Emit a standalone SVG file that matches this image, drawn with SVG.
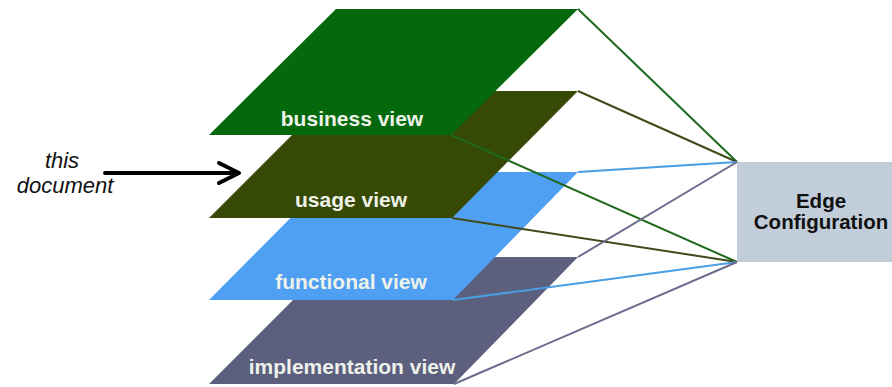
<svg xmlns="http://www.w3.org/2000/svg" width="892" height="387" viewBox="0 0 892 387">
<style>
.view{font-family:"Liberation Sans",Arial,sans-serif;font-weight:bold;font-size:21px;fill:#eef2ea;text-anchor:middle}
.box{font-family:"Liberation Sans",Arial,sans-serif;font-weight:bold;font-size:20.5px;fill:#111;text-anchor:middle}
.note{font-family:"Liberation Sans",Arial,sans-serif;font-style:italic;font-size:22px;fill:#111;text-anchor:middle}
.c{stroke-width:2;fill:none}
</style>
<rect width="892" height="387" fill="#ffffff"/>
<g id="implementation-view">
<polygon points="336,257 578,257 454,384 209,384" fill="#5c5f7e"/>
<text class="view" x="352" y="374">implementation view</text>
</g>
<g id="functional-view">
<polygon points="336,172 578,172 453,300 209,300" fill="#4f9ff2"/>
<text class="view" x="351" y="289">functional view</text>
</g>
<g id="usage-view">
<polygon points="336,91 578,91 452,218 209,218" fill="#374a05"/>
<text class="view" x="351" y="207">usage view</text>
</g>
<g id="business-view">
<polygon points="336,9 578,9 451,135 209,135" fill="#04680c"/>
<text class="view" x="352" y="126">business view</text>
</g>
<g id="edge-configuration">
<rect x="737" y="162" width="155" height="100" fill="#c1cdd8"/>
<text class="box" x="821" y="208">Edge</text>
<text class="box" x="821" y="229">Configuration</text>
</g>
<g id="this-document">
<text class="note" x="62" y="168">this</text>
<text class="note" x="65" y="193">document</text>
</g>
<g id="connectors">
<path class="c" stroke="#1d6a1d" d="M578,9 L737,162 M451,135 L737,262"/>
<path class="c" stroke="#3f4a18" d="M578,91 L737,162 M452,218 L737,262"/>
<path class="c" stroke="#4a9ee2" d="M578,172 L737,162 M453,300 L737,262"/>
<path class="c" stroke="#6b6c8c" d="M578,257 L737,162 M454,384 L737,262"/>
<path d="M105,173 L238,173 M219,163 L239,173 L219,183" stroke="#000" stroke-width="4" fill="none" stroke-linecap="round" stroke-linejoin="round"/>
</g>
</svg>
